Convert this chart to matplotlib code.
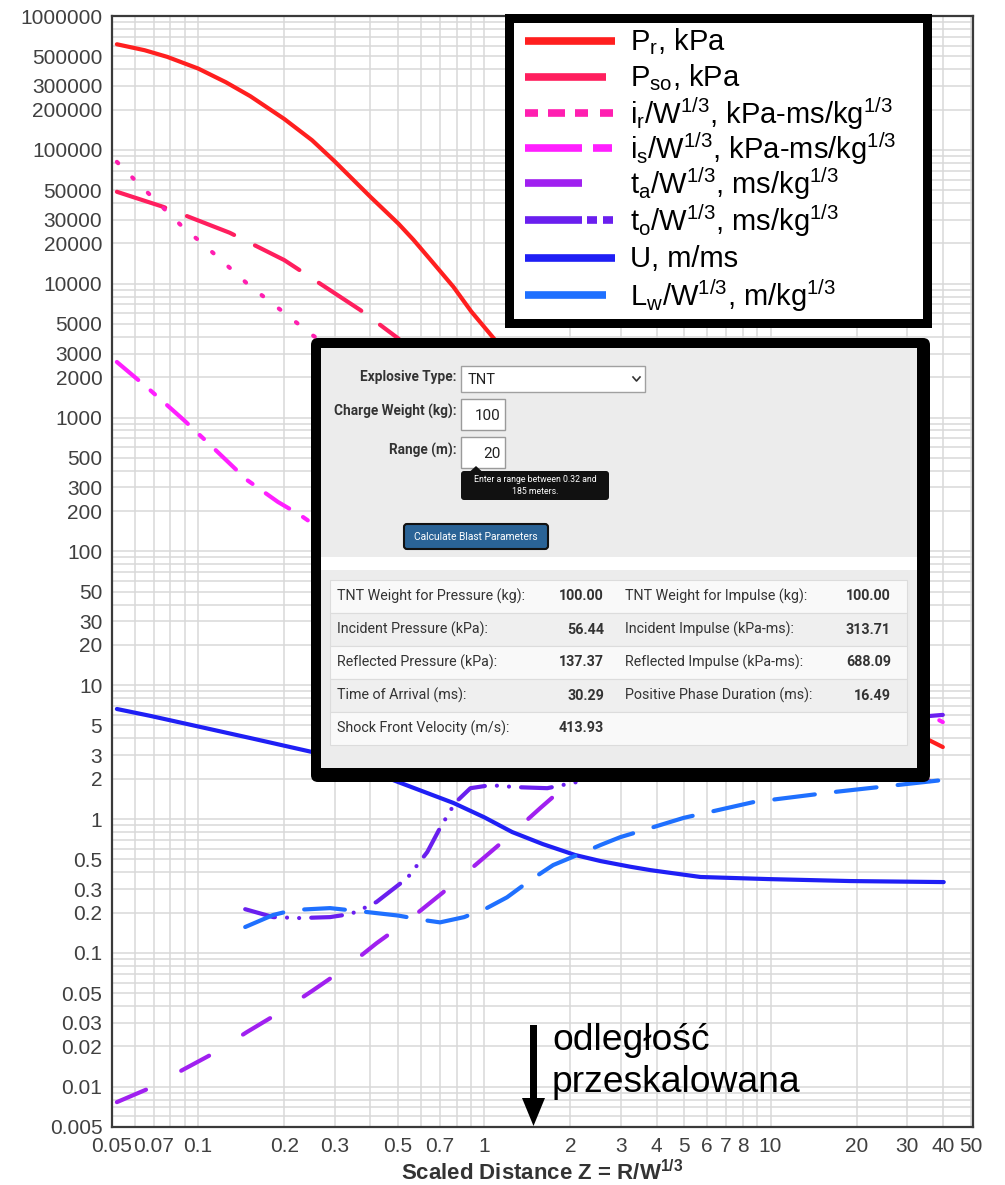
import matplotlib
matplotlib.use('Agg')
import matplotlib.pyplot as plt
from matplotlib.patches import Rectangle, FancyBboxPatch, Polygon
from matplotlib.lines import Line2D
from matplotlib.ticker import FixedLocator, FixedFormatter, LogLocator, NullFormatter
import numpy as np

plt.rcParams['font.family'] = ['Liberation Sans', 'DejaVu Sans']
plt.rcParams['mathtext.fontset'] = 'custom'
plt.rcParams['mathtext.rm'] = 'Liberation Sans'
plt.rcParams['mathtext.it'] = 'Liberation Sans:italic'
plt.rcParams['mathtext.bf'] = 'Liberation Sans:bold'

# ---------------- data ----------------
pr_z = [0.052, 0.065, 0.078, 0.1, 0.125, 0.152, 0.2, 0.25, 0.3, 0.4, 0.5, 0.565, 0.65, 0.78, 0.9, 1.075,
        1.5, 2, 3, 5, 10, 20, 30, 40]
pr_v = [615000, 555000, 495000, 405000, 320000, 252000, 170000, 118000, 82000, 44500, 28200, 21300, 15000,
        9460, 6200, 3940, 1600, 760, 280, 85, 21, 7.3, 4.7, 3.45]

pso_z = [0.052, 0.0755, 0.129, 0.2, 0.368, 0.497, 0.7, 1, 1.5, 2, 3, 5, 10, 20, 30, 40]
pso_v = [48600, 37500, 24000, 15000, 6370, 3940, 2100, 1000, 450, 230, 95, 35, 10, 3.6, 2.3, 1.73]

ir_z = [0.052, 0.06, 0.069, 0.078, 0.089, 0.102, 0.117, 0.15, 0.194, 0.25, 0.35, 0.5, 0.7, 1, 2, 3, 5, 10, 20, 30, 40]
ir_v = [81300, 59700, 44500, 34400, 26100, 20500, 15850, 9800, 6370, 4140, 2600, 1700, 1200, 900, 450, 250, 130, 60, 24, 14, 10]

is_z = [0.052, 0.0667, 0.089, 0.113, 0.148, 0.19, 0.227, 0.246, 0.3, 0.4, 0.6, 1, 1.5, 2, 3, 5, 10, 20, 30, 40]
is_v = [2600, 1660, 960, 593, 342, 234, 187, 166, 150, 140, 145, 170, 150, 120, 85, 58, 28, 12, 7.3, 5.3]

ta_z = [0.052, 0.068, 0.088, 0.115, 0.148, 0.194, 0.25, 0.327, 0.42, 0.55, 0.713, 0.93, 1.21, 1.57, 2, 3, 5, 10, 20, 30, 40]
ta_v = [0.00767, 0.0098, 0.0133, 0.0181, 0.0256, 0.0362, 0.0519, 0.077, 0.118, 0.179, 0.28, 0.453, 0.733, 1.21, 1.9, 3.6, 7.6, 19, 43, 68, 94]

to_z = [0.146, 0.183, 0.227, 0.289, 0.34, 0.368, 0.42, 0.538, 0.632, 0.70, 0.79, 0.894, 1.05, 1.3, 1.66, 2.11, 3, 5, 10, 20, 40]
to_v = [0.212, 0.185, 0.182, 0.185, 0.195, 0.209, 0.24, 0.362, 0.567, 0.856, 1.32, 1.70, 1.79, 1.73, 1.70, 1.89, 2.6, 3.7, 4.6, 5.3, 6.0]

u_z = [0.052, 0.068, 0.102, 0.152, 0.25, 0.35, 0.5, 0.779, 1.0, 1.25, 1.6, 2.08, 2.55, 3.24, 3.81, 5.69, 9.77, 19, 40.3]
u_v = [6.64, 5.9, 4.87, 4.03, 3.17, 2.55, 1.89, 1.32, 1.03, 0.80, 0.65, 0.538, 0.485, 0.44, 0.415, 0.369, 0.356, 0.344, 0.338]

lw_z = [0.146, 0.183, 0.215, 0.289, 0.388, 0.5, 0.612, 0.70, 0.85, 1.02, 1.2, 1.45, 1.74, 2.11, 2.55, 2.99, 3.43, 4.97, 8.74, 16.6, 40.3]
lw_v = [0.156, 0.192, 0.209, 0.216, 0.202, 0.19, 0.176, 0.169, 0.185, 0.216, 0.26, 0.35, 0.453, 0.538, 0.64, 0.733, 0.80, 1.02, 1.34, 1.59, 1.96]

x_ticks = [0.05, 0.07, 0.1, 0.2, 0.3, 0.5, 0.7, 1, 2, 3, 4, 5, 6, 7, 8, 10, 20, 30, 40, 50]
x_labels = ['0.05', '0.07', '0.1', '0.2', '0.3', '0.5', '0.7', '1', '2', '3', '4', '5', '6', '7', '8', '10', '20', '30', '40', '50']
y_ticks = [1000000, 500000, 300000, 200000, 100000, 50000, 30000, 20000, 10000, 5000, 3000, 2000, 1000,
           500, 300, 200, 100, 50, 30, 20, 10, 5, 3, 2, 1, 0.5, 0.3, 0.2, 0.1, 0.05, 0.03, 0.02, 0.01, 0.005]
y_labels = ['1000000', '500000', '300000', '200000', '100000', '50000', '30000', '20000', '10000', '5000', '3000',
            '2000', '1000', '500', '300', '200', '100', '50', '30', '20', '10', '5', '3', '2', '1', '0.5', '0.3',
            '0.2', '0.1', '0.05', '0.03', '0.02', '0.01', '0.005']

legend_labels = [r'P$_{\mathrm{r}}$, kPa',
                 r'P$_{\mathrm{so}}$, kPa',
                 r'i$_{\mathrm{r}}$/W$^{\mathrm{1/3}}$, kPa-ms/kg$^{\mathrm{1/3}}$',
                 r'i$_{\mathrm{s}}$/W$^{\mathrm{1/3}}$, kPa-ms/kg$^{\mathrm{1/3}}$',
                 r't$_{\mathrm{a}}$/W$^{\mathrm{1/3}}$, ms/kg$^{\mathrm{1/3}}$',
                 r't$_{\mathrm{o}}$/W$^{\mathrm{1/3}}$, ms/kg$^{\mathrm{1/3}}$',
                 r'U, m/ms',
                 r'L$_{\mathrm{w}}$/W$^{\mathrm{1/3}}$, m/kg$^{\mathrm{1/3}}$']

form_labels = ['Explosive Type:', 'Charge Weight (kg):', 'Range (m):']
form_values = ['TNT', '100', '20']
tooltip_lines = ['Enter a range between 0.32 and', '185 meters.']
button_text = 'Calculate Blast Parameters'
table_left = ['TNT Weight for Pressure (kg):', 'Incident Pressure (kPa):', 'Reflected Pressure (kPa):',
              'Time of Arrival (ms):', 'Shock Front Velocity (m/s):']
table_left_val = ['100.00', '56.44', '137.37', '30.29', '413.93']
table_right = ['TNT Weight for Impulse (kg):', 'Incident Impulse (kPa-ms):', 'Reflected Impulse (kPa-ms):',
               'Positive Phase Duration (ms):', '']
table_right_val = ['100.00', '313.71', '688.09', '16.49', '']

# ---------------- styles ----------------
C_PR, C_PSO, C_IR, C_IS = '#ff1f1f', '#ff1f5e', '#ff1fb0', '#ff1fff'
C_TA, C_TO, C_U, C_LW = '#a020f0', '#6a1fef', '#1f1ff5', '#1f70ff'
LWD = 3.0

W, H = 1005, 1185
fig = plt.figure(figsize=(W / 100, H / 100), dpi=100)
ax = fig.add_axes([112 / W, 1 - 1127 / H, (973 - 112) / W, (1127 - 16) / H])
ax.set_xscale('log')
ax.set_yscale('log')
ax.set_xlim(0.05, 51)
ax.set_ylim(0.005, 1e6)

ax.xaxis.set_major_locator(FixedLocator(x_ticks))
ax.xaxis.set_major_formatter(FixedFormatter(x_labels))
ax.yaxis.set_major_locator(FixedLocator(y_ticks))
ax.yaxis.set_major_formatter(FixedFormatter(y_labels))
ax.xaxis.set_minor_locator(LogLocator(base=10, subs=np.arange(1, 10), numticks=100))
ax.yaxis.set_minor_locator(LogLocator(base=10, subs=np.arange(1, 10), numticks=100))
ax.xaxis.set_minor_formatter(NullFormatter())
ax.yaxis.set_minor_formatter(NullFormatter())
ax.tick_params(which='both', length=0)
ax.tick_params(axis='x', labelsize=15, labelcolor='#404040', pad=7)
ax.tick_params(axis='y', labelsize=15, labelcolor='#404040', pad=7)
ax.grid(True, which='both', color='#d9d9d9', lw=1.1)
ax.set_axisbelow(True)
for s in ax.spines.values():
    s.set_color('#3a3a3a')
    s.set_linewidth(1.6)
ax.set_xlabel(r'Scaled Distance Z = R/W$^{\mathbf{1/3}}$', fontsize=16, fontweight='bold',
              color='#333333', labelpad=3)

kw = dict(lw=LWD, dash_capstyle='round', solid_capstyle='round', solid_joinstyle='round', zorder=3)
ax.plot(pr_z, pr_v, color=C_PR, **kw)
ax.plot(pso_z, pso_v, color=C_PSO, dashes=(12.2, 5.6), **kw)
ax.plot(ir_z, ir_v, color=C_IR, dashes=(0.45, 4.8), **kw)
ax.plot(is_z, is_v, color=C_IS, dashes=(6.7, 3.9, 1.4, 3.9), **kw)
ax.plot(ta_z, ta_v, color=C_TA, dashes=(7.6, 9.6), **kw)
ax.plot(to_z, to_v, color=C_TO, dashes=(7.4, 2.9, 0.01, 2.9, 0.01, 2.9), **kw)
ax.plot(u_z, u_v, color=C_U, **kw)
ax.plot(lw_z, lw_v, color=C_LW, dashes=(9.8, 5.1), **kw)

# ---------------- overlay (pixel coordinates) ----------------
ov = fig.add_axes([0, 0, 1, 1], zorder=10)
ov.set_xlim(0, W)
ov.set_ylim(H, 0)
ov.axis('off')
ov.patch.set_alpha(0)

# legend box
ov.add_patch(Rectangle((505, 14), 427, 314, fc='black', ec='none'))
ov.add_patch(Rectangle((514, 23), 409, 296, fc='white', ec='none'))
leg_rows = [41, 77, 113, 148, 183, 220, 258, 295]
leg_colors = [C_PR, C_PSO, C_IR, C_IS, C_TA, C_TO, C_U, C_LW]
leg_segs = [[(525, 615)], [(525, 606)], [(525, 538), (548, 565), (575, 588), (600, 613)],
            [(525, 582), (593, 612)], [(525, 582)], [(525, 582), (587, 597), (603, 613)],
            [(525, 615)], [(525, 606)]]
for yy, col, segs, lab in zip(leg_rows, leg_colors, leg_segs, legend_labels):
    for a, b in segs:
        ov.add_line(Line2D([a, b], [yy, yy], color=col, lw=5.5, solid_capstyle='butt'))
    ov.text(630, yy + 1, lab, fontsize=21, color='black', va='center', ha='left')

# panel
ov.add_patch(FancyBboxPatch((311, 338), 619, 444, boxstyle='round,pad=0,rounding_size=7', fc='black', ec='none'))
ov.add_patch(Rectangle((321, 348), 596, 420, fc='#ececec', ec='none'))
ov.add_patch(Rectangle((321, 557), 596, 13, fc='white', ec='none'))

lab_y = [377, 411, 450]
for t, yy in zip(form_labels, lab_y):
    ov.text(457, yy, t, fontsize=9.8, fontweight='bold', family='Roboto', color='#333333', ha='right', va='center')
ov.add_patch(Rectangle((461, 366), 184, 26, fc='white', ec='#a0a0a0', lw=1))
ov.text(468, 380, form_values[0], fontsize=10.5, family='Roboto', color='#222222', ha='left', va='center')
ov.add_line(Line2D([633, 636.5, 640], [377, 381, 377], color='#333333', lw=1.2))
ov.add_patch(Rectangle((461, 399), 44, 31, fc='white', ec='#9a9a9a', lw=1))
ov.text(501, 416, form_values[1], fontsize=11, family='Roboto', color='#222222', ha='right', va='center')
ov.add_patch(Rectangle((461, 437), 44, 31, fc='white', ec='#9a9a9a', lw=1))
ov.text(501, 454, form_values[2], fontsize=11, family='Roboto', color='#222222', ha='right', va='center')

ov.add_patch(FancyBboxPatch((461, 471), 148, 29, boxstyle='round,pad=0,rounding_size=3', fc='#111111', ec='none'))
ov.add_patch(Polygon([(470, 471.5), (476, 466), (482, 471.5)], closed=True, fc='#111111', ec='none'))
ov.text(535, 479, tooltip_lines[0], fontsize=6.3, family='Roboto', color='white', ha='center', va='center')
ov.text(535, 492, tooltip_lines[1], fontsize=6.3, family='Roboto', color='white', ha='center', va='center')

ov.add_patch(FancyBboxPatch((404, 524), 144, 25, boxstyle='round,pad=0,rounding_size=3', fc='#2a6396',
                            ec='#111111', lw=1.5))
ov.text(476, 537, button_text, fontsize=7.4, family='Roboto', color='white', ha='center', va='center')

# table
row_top = [580, 613, 646, 679, 712]
row_h = 33
for i, rt in enumerate(row_top):
    fc = '#f9f9f9' if i % 2 == 0 else '#efefef'
    ov.add_patch(Rectangle((330, rt), 577, row_h, fc=fc, ec='#dcdcdc', lw=0.8))
    yc = rt + row_h / 2
    ov.text(337, yc, table_left[i], fontsize=10.3, family='Roboto', color='#333333', ha='left', va='center')
    ov.text(604, yc, table_left_val[i], fontsize=10.3, family='Roboto', fontweight='bold', color='#333333',
            ha='right', va='center')
    if table_right[i]:
        ov.text(625, yc, table_right[i], fontsize=10.3, family='Roboto', color='#333333', ha='left', va='center')
        ov.text(891, yc, table_right_val[i], fontsize=10.3, family='Roboto', fontweight='bold', color='#333333',
                ha='right', va='center')

# arrow annotation
ov.add_patch(Rectangle((530, 1025), 7, 75, fc='black', ec='none'))
ov.add_patch(Polygon([(522, 1098), (545, 1098), (533.5, 1126)], closed=True, fc='black', ec='none'))
ov.text(552, 1050, 'odległość', fontsize=26.8, color='black', ha='left', va='baseline')
ov.text(552, 1092, 'przeskalowana', fontsize=26.8, color='black', ha='left', va='baseline')

fig.savefig('out.png', dpi=100)
